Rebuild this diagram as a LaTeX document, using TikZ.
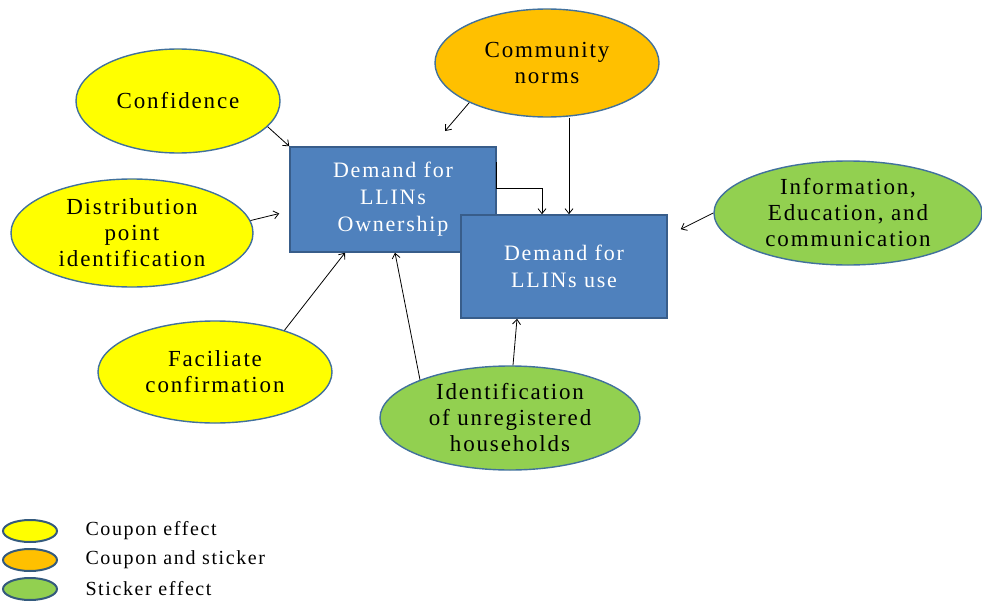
\documentclass[tikz,border=0pt]{standalone}
\usepackage{fontspec}
\setmainfont{Liberation Serif}[LetterSpace=8]
\usepackage{xcolor}
\usepackage{tikz}
\usetikzlibrary{shapes,arrows,positioning,calc,arrows.meta}
\definecolor{cyellow}{HTML}{FFFF00}
\definecolor{corange}{HTML}{FFC000}
\definecolor{cgreen}{HTML}{92D050}
\definecolor{cbox}{HTML}{4F81BD}
\definecolor{cboxline}{HTML}{385D8A}
\definecolor{coval}{HTML}{41719C}
\tikzset{
    oval/.style={ellipse, draw=coval, line width=1.4pt, inner sep=0pt, align=center,
        font=\fontsize{23}{26}\selectfont},
    demand/.style={draw=cboxline, fill=cbox, line width=1.5pt, text=white, align=center,
        minimum width=206pt, font=\fontsize{22}{27}\selectfont},
    keyoval/.style={ellipse, draw=coval!80!black, line width=2pt, inner sep=0pt,
        minimum width=54pt, minimum height=22pt},
    link/.style={->, >={Straight Barb[length=5pt,width=8pt]}, line width=0.8pt}
}

\begin{document}
\begin{tikzpicture}[x=1pt, y=-1pt]
    \useasboundingbox (0,0) rectangle (982,602);

    % Factors
    \node[oval, fill=cyellow, minimum width=204pt, minimum height=104pt] (conf) at (178,101) {Confidence};
    \node[oval, fill=corange, minimum width=224pt, minimum height=108pt] (norms) at (547,63) {Community\\norms};
    \node[oval, fill=cyellow, minimum width=242pt, minimum height=108pt] (dist) at (132,233) {Distribution\\point\\identification};
    \node[oval, fill=cgreen, minimum width=268pt, minimum height=104pt] (info) at (848,213) {Information,\\Education, and\\communication};
    \node[oval, fill=cyellow, minimum width=234pt, minimum height=102pt] (fac) at (215,372) {Faciliate\\confirmation};
    \node[oval, fill=cgreen, minimum width=260pt, minimum height=104pt] (ident) at (510,418) {Identification\\of unregistered\\households};

    % Demand boxes
    \node[demand, minimum height=105pt] (own) at (393,199.5) {Demand for\\LLINs\\Ownership};
    \node[demand, minimum height=103pt] (use) at (564,266.5) {Demand for\\LLINs use};

    % Links
    \coordinate (nend) at (445,131);
    \draw[link] (conf.-16) -- (own.north west);
    \draw[link] (norms.207) -- (nend);
    \draw[link] ([xshift=22]norms.south) -- ([xshift=22]norms.south |- use.north);
    \draw[link] ([yshift=-16]own.north east) -- ++(0,26) -| ([xshift=-22]use.north);
    \draw[link] (dist.6) -- ([shift={(-10,14)}]own.west);
    \draw[link] (info.west) -- ([shift={(13,15)}]use.north east);
    \draw[link] (fac.31) -- ([xshift=-48]own.south);
    \draw[link] (ident.157) -- ([xshift=2]own.south);
    \draw[link] ([xshift=3]ident.north) -- ([xshift=-47]use.south);

    % Legend
    \foreach \col/\txt [count=\i] in {cyellow/Coupon effect, corange/Coupon and sticker, cgreen/Sticker effect} {
        \node[keyoval, fill=\col] (K\i) at (30, 502+29*\i) {};
        \node[right=24pt of K\i, font=\fontsize{20}{22}\selectfont] (T\i) {\txt};
    }
\end{tikzpicture}
\end{document}
